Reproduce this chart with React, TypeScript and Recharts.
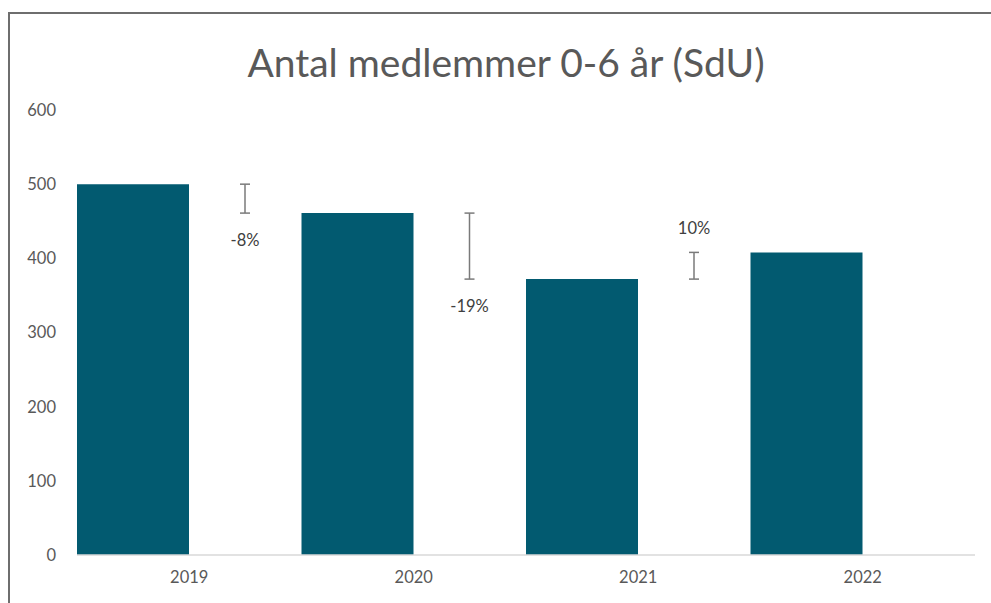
import React from 'react'
import { BarChart, Bar, XAxis, YAxis, LabelList } from 'recharts'

const years = ['2019', '2020', '2021', '2022']
const members = [500, 461, 372, 408]
const yTicks = [0, 100, 200, 300, 400, 500, 600]

const BAR_COLOR = '#025a70'
const TEXT = '#595959'
const FONT = 'Lato, "Open Sans", sans-serif'

// second (hidden) series: a floating range between this year and next, drawn as an I-beam
const data = years.map((year, i) => {
  const next = members[i + 1]
  const has = next !== undefined
  return {
    year,
    members: members[i],
    change: has ? [Math.min(members[i], next), Math.max(members[i], next)] : null,
    pct: has ? Math.round((next / members[i] - 1) * 100) : null,
  }
})

const ChangeMarker = (props: any) => {
  const { x, y, width, height } = props
  if (x == null || y == null || !width) return null
  const cx = x + width / 2
  const top = Math.min(y, y + height)
  const bottom = Math.max(y, y + height)
  return (
    <g stroke="#7a7a7a" strokeWidth={1.5}>
      <line x1={cx} x2={cx} y1={top} y2={bottom} />
      <line x1={cx - 5} x2={cx + 5} y1={top} y2={top} />
      <line x1={cx - 5} x2={cx + 5} y1={bottom} y2={bottom} />
    </g>
  )
}

const PctLabel = (props: any) => {
  const { x, y, width, height, value } = props
  if (value == null || x == null) return null
  const cx = x + width / 2
  const top = Math.min(y, y + height)
  const bottom = Math.max(y, y + height)
  const ty = value < 0 ? bottom + 27 : top - 24
  return (
    <text x={cx} y={ty} dy="0.35em" textAnchor="middle" fill="#404040" fontSize={16.5} fontFamily={FONT}>
      {`${value}%`}
    </text>
  )
}

export default function App() {
  return (
    <div style={{ position: 'absolute', left: 0, top: 0, width: 991, height: 603, background: '#fff' }}>
      <div
        style={{
          position: 'absolute', left: 8, top: 12, right: 0, bottom: 0,
          borderTop: '2px solid #6e6e6e', borderLeft: '2px solid #6e6e6e',
        }}
      />
      <div
        style={{
          position: 'absolute', left: 106, top: 38, width: 800, textAlign: 'center',
          fontFamily: FONT, fontSize: 39, color: TEXT, lineHeight: '48px',
        }}
      >
        Antal medlemmer 0-6 år (SdU)
      </div>
      <div style={{ position: 'absolute', left: 0, top: 0 }}>
        <BarChart
          width={991}
          height={603}
          data={data}
          margin={{ top: 110, right: 16, bottom: 0, left: 0 }}
          barCategoryGap={0}
          barGap={0}
        >
          <XAxis
            dataKey="year"
            axisLine={{ stroke: '#d9d9d9', strokeWidth: 1.5 }}
            tickLine={false}
            tickSize={0}
            tickMargin={16}
            height={48}
            tick={{ fill: TEXT, fontSize: 16.5, fontFamily: FONT }}
          />
          <YAxis
            domain={[0, 600]}
            ticks={yTicks}
            axisLine={false}
            tickLine={false}
            tickSize={0}
            tickMargin={21}
            width={77}
            tick={{ fill: TEXT, fontSize: 16.5, fontFamily: FONT }}
          />
          <Bar dataKey="members" fill={BAR_COLOR} isAnimationActive={false} />
          <Bar dataKey="change" fill="none" shape={<ChangeMarker />} isAnimationActive={false}>
            <LabelList dataKey="pct" content={<PctLabel />} />
          </Bar>
        </BarChart>
      </div>
    </div>
  )
}
